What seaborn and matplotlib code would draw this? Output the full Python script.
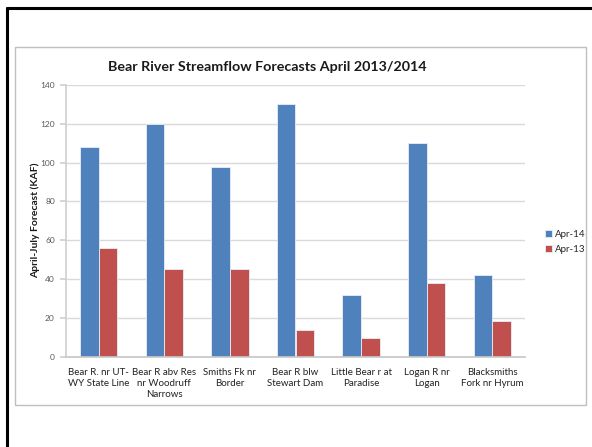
import matplotlib
matplotlib.use("Agg")
import matplotlib.pyplot as plt
from matplotlib.lines import Line2D
from matplotlib.patches import Rectangle
import pandas as pd
import seaborn as sns

# Forecast sites and April-July volumes (KAF)
sites = [
    "Bear R. nr UT-\nWY State Line",
    "Bear R abv Res\nnr Woodruff\nNarrows",
    "Smiths Fk nr\nBorder",
    "Bear R blw\nStewart Dam",
    "Little Bear r at\nParadise",
    "Logan R nr\nLogan",
    "Blacksmiths\nFork nr Hyrum",
]
apr14 = [108, 120, 98, 130, 32, 110, 42]
apr13 = [56, 45, 45, 14, 9.5, 38, 18.5]
series = ["Apr-14", "Apr-13"]
colors = ["#4F81BD", "#C0504D"]
yticks = [0, 20, 40, 60, 80, 100, 120, 140]

df = pd.DataFrame({
    "site": sites * 2,
    "value": apr14 + apr13,
    "series": [series[0]] * len(sites) + [series[1]] * len(sites),
})

sns.set_theme(style="white")
plt.rcParams["font.family"] = ["Lato", "DejaVu Sans"]

W, H = 592, 447
fig = plt.figure(figsize=(W / 100, H / 100), dpi=100)
ax = fig.add_axes([66 / W, 1 - 356.7 / H, (525 - 66) / W, (356.7 - 85) / H])

sns.barplot(data=df, x="site", y="value", hue="series", hue_order=series,
            palette=colors, width=0.57, order=sites, ax=ax,
            edgecolor="#E8EEF7", linewidth=0.6, saturation=1)

ax.set_ylim(0, 140)
ax.set_yticks(yticks)
ax.set_xlim(-0.5, len(sites) - 0.5)
ax.yaxis.grid(True, color="#D9D9D9", linewidth=1)
ax.set_axisbelow(True)
for side in ["top", "right"]:
    ax.spines[side].set_visible(False)
ax.spines["left"].set_color("#D0D0D0")
ax.spines["bottom"].set_color("#C8C8C8")
ax.tick_params(axis="y", labelsize=6, colors="#595959", length=4, color="#D0D0D0", left=True, pad=4)
ax.tick_params(axis="x", labelsize=7, colors="#222222", length=0, pad=8)
for lbl in ax.get_xticklabels():
    lbl.set_linespacing(1.3)
ax.set_xlabel("")
ax.set_ylabel("")

fig.text(267 / W, 1 - 67 / H, "Bear River Streamflow Forecasts April 2013/2014",
         ha="center", va="center", fontsize=10.3, fontweight="bold", color="#1a1a1a")
fig.text(35 / W, 1 - 220.5 / H, "April-July Forecast (KAF)", rotation=90,
         ha="center", va="center", fontsize=7.5, fontweight="bold", color="#1a1a1a")

ax.legend(loc="center left", bbox_to_anchor=(536 / W, 1 - 242 / H),
          bbox_transform=fig.transFigure, frameon=False, fontsize=7,
          handlelength=0.7, handleheight=0.7, handletextpad=0.3, labelspacing=0.6)

# chart area frame and outer border
fig.add_artist(Rectangle((15 / W, 1 - 405 / H), (586 - 15) / W, (405 - 47) / H,
                         transform=fig.transFigure, fill=False, edgecolor="#BFBFBF", linewidth=1))
fig.add_artist(Line2D([6.5 / W, 1], [1 - 8 / H, 1 - 8 / H], transform=fig.transFigure,
                      color="black", linewidth=2.2))
fig.add_artist(Line2D([6.5 / W, 6.5 / W], [0, 1 - 8 / H], transform=fig.transFigure,
                      color="black", linewidth=2.2))

fig.savefig("out.png", dpi=100)
